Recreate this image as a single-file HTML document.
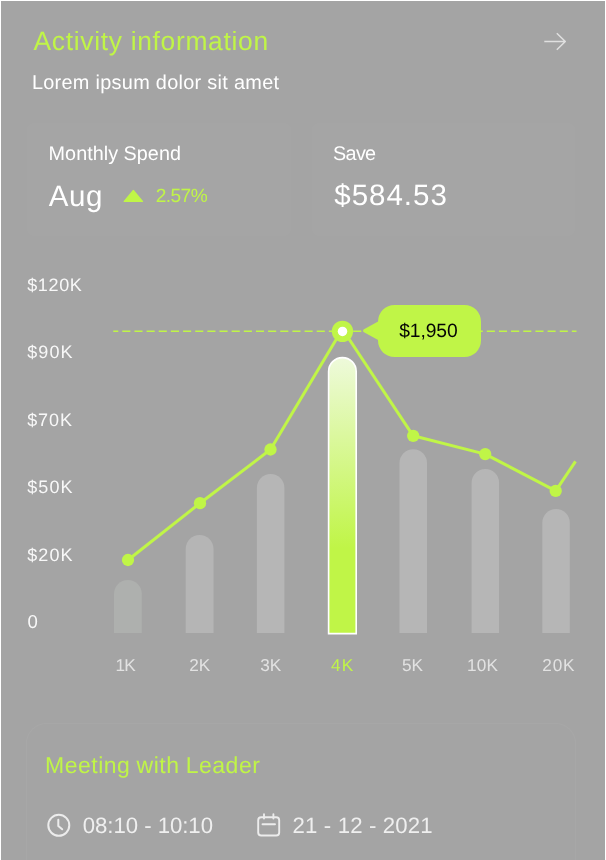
<!DOCTYPE html>
<html lang="en">
<head>
<meta charset="utf-8">
<title>Activity information</title>
<style>
  html, body { margin: 0; padding: 0; }
  body {
    width: 606px; height: 860px; overflow: hidden; position: relative;
    background: #ffffff;
    font-family: "Liberation Sans", sans-serif;
    color: #ffffff;
    text-rendering: geometricPrecision;
  }
  .panel {
    position: absolute; left: 1px; top: 1px; width: 604px; height: 859px;
    background: #a4a4a4;
  }
  .t { position: absolute; white-space: nowrap; line-height: 1; margin: 0; }
  .green { color: #c0f547; }
  .card {
    position: absolute; box-sizing: border-box;
    background: rgba(255,255,255,0.012);
    border: 1px solid rgba(255,255,255,0.008);
    border-radius: 7px;
  }
  svg { position: absolute; left: 0; top: 0; overflow: visible; }
  svg text { font-family: "Liberation Sans", sans-serif; text-rendering: geometricPrecision; }
</style>
</head>
<body>
<div class="panel"></div>

<!-- header -->
<div class="t green" id="title" style="left:33.53px; top:28.00px; font-size:26.4px; letter-spacing:0.69px;">Activity information</div>
<div class="t" id="sub" style="left:31.88px; top:74.00px; font-size:19.9px; letter-spacing:0.29px;">Lorem ipsum dolor sit amet</div>

<!-- cards -->
<div class="card" style="left:27px; top:123px; width:263.5px; height:112.6px;"></div>
<div class="card" style="left:312px; top:123px; width:263.3px; height:112.6px;"></div>

<div class="t" id="ms" style="left:48.62px; top:145.00px; font-size:19.8px; letter-spacing:0.03px;">Monthly Spend</div>
<div class="t" id="aug" style="left:48.67px; top:182.00px; font-size:29.5px; letter-spacing:0.64px;">Aug</div>
<div class="t green" id="pct" style="left:155.69px; top:187.00px; font-size:19.1px; letter-spacing:-0.54px;">2.57%</div>

<div class="t" id="save" style="left:333.05px; top:145.00px; font-size:19.8px; letter-spacing:-0.67px;">Save</div>
<div class="t" id="amt" style="left:334.37px; top:181.00px; font-size:29.5px; letter-spacing:0.97px;">$584.53</div>

<!-- bottom card -->
<div class="card" style="left:26px; top:723.3px; width:549.5px; height:170px; border-radius:20.5px; border-color:rgba(255,255,255,0.035); background:rgba(255,255,255,0.006);"></div>
<div class="t green" id="meet" style="left:45.09px; top:754.00px; font-size:23px; letter-spacing:0.49px; word-spacing:-0.6px;">Meeting with Leader</div>
<div class="t" id="time" style="left:82.73px; top:815.00px; font-size:22.2px; letter-spacing:-0.04px; color:#efefef;">08:10 - 10:10</div>
<div class="t" id="date" style="left:292.55px; top:815.00px; font-size:22.2px; letter-spacing:0.15px; color:#efefef;">21 - 12 - 2021</div>

<svg id="gfx" width="606" height="860" viewBox="0 0 606 860">
  <defs>
    <linearGradient id="barg" x1="0" y1="0" x2="0" y2="1">
      <stop offset="0" stop-color="#eefadb"/>
      <stop offset="0.69" stop-color="#c0f547"/>
      <stop offset="1" stop-color="#c0f547"/>
    </linearGradient>
  </defs>

  <!-- arrow -->
  <g fill="none" stroke="#e0e0e0" stroke-width="1.5" stroke-linecap="butt" stroke-linejoin="round">
    <path d="M544.3 41.5 H565.3 M556.8 33.3 L565.3 41.5 L556.8 49.7"/>
  </g>

  <!-- up triangle -->
  <path d="M133.35 190.5 L142.5 201.5 H124.2 Z" fill="#c0f547" stroke="#c0f547" stroke-width="1.2" stroke-linejoin="round"/>

  <!-- grey bars -->
  <g fill="#b6b6b6">
    <path d="M114 633 V593.8 a13.9 13.9 0 0 1 27.8 0 V633 Z" fill="#aeb0ae"/>
    <path d="M185.7 633 V548.8 a13.9 13.9 0 0 1 27.8 0 V633 Z" fill="#b5b5b5"/>
    <path d="M256.9 633 V487.8 a13.75 13.75 0 0 1 27.5 0 V633 Z"/>
    <path d="M399.5 633 V463 a13.75 13.75 0 0 1 27.5 0 V633 Z"/>
    <path d="M471.6 633 V482.8 a13.75 13.75 0 0 1 27.5 0 V633 Z"/>
    <path d="M542.3 633 V522.8 a13.75 13.75 0 0 1 27.5 0 V633 Z"/>
  </g>

  <!-- active bar -->
  <path d="M328.6 633.6 V371.4 a13.8 13.8 0 0 1 27.6 0 V633.6 Z" fill="url(#barg)" stroke="#ffffff" stroke-width="1.6"/>

  <!-- dashed line -->
  <path d="M113.25 331.35 H576.5" stroke="#c0f547" stroke-width="1.5" stroke-dasharray="8.1 4.05" stroke-dashoffset="3.1" fill="none"/>

  <!-- line -->
  <polyline points="128,560 200,503.2 270.5,449.5 342.4,329 413.2,435.8 485.2,454.1 555.7,490.9 575.5,461.3"
    fill="none" stroke="#c0f547" stroke-width="3" stroke-linejoin="round"/>
  <g fill="#c0f547">
    <circle cx="128" cy="560" r="6.15"/>
    <circle cx="200" cy="503.2" r="6.15"/>
    <circle cx="270.5" cy="449.5" r="6.15"/>
    <circle cx="413.2" cy="435.8" r="6.15"/>
    <circle cx="485.2" cy="454.1" r="6.15"/>
    <circle cx="555.7" cy="490.9" r="6.15"/>
    <circle cx="342.45" cy="331.35" r="10.7"/>
  </g>
  <circle cx="342.5" cy="331.45" r="4.75" fill="#ffffff"/>

  <!-- tooltip -->
  <rect x="378" y="305" width="103" height="52" rx="16.5" fill="#c0f547"/>
  <path d="M379 321 L364 329.3 a1.7 1.7 0 0 0 0 3 L379 340.6 Z" fill="#c0f547"/>
  <text x="399.2" y="336.6" font-size="19.3" fill="#050505" letter-spacing="-0.1">$1,950</text>

  <!-- y labels -->
  <g font-size="18" fill="#f8f8f8">
    <text x="27.2" y="290.7" letter-spacing="0.65">$120K</text>
    <text x="27.2" y="358" letter-spacing="1.1">$90K</text>
    <text x="27.2" y="425.6" letter-spacing="0.9">$70K</text>
    <text x="27.2" y="492.8" letter-spacing="1.1">$50K</text>
    <text x="27.2" y="560.7" letter-spacing="1.1">$20K</text>
    <text x="27.4" y="628" font-size="18.6">0</text>
  </g>

  <!-- x labels -->
  <g font-size="17.2" fill="#e2e2e2">
    <text x="115.6" y="670.6" letter-spacing="-0.9">1K</text>
    <text x="189.2" y="670.6" letter-spacing="0">2K</text>
    <text x="260.2" y="670.6" letter-spacing="0">3K</text>
    <text x="330.9" y="670.6" fill="#c0f547" letter-spacing="1.4">4K</text>
    <text x="401.9" y="670.6" letter-spacing="0">5K</text>
    <text x="466.9" y="670.6" letter-spacing="0.2">10K</text>
    <text x="542.2" y="670.6" letter-spacing="0.9">20K</text>
  </g>

  <!-- clock icon -->
  <g fill="none" stroke="#ececec" stroke-width="2" stroke-linecap="round" stroke-linejoin="round">
    <circle cx="58.8" cy="825.3" r="10.5"/>
    <path d="M58.3 819.8 V826 L62.2 829.3"/>
  </g>
  <!-- calendar icon -->
  <g fill="none" stroke="#ececec" stroke-width="1.9" stroke-linecap="round" stroke-linejoin="round">
    <rect x="258.2" y="817.3" width="21" height="18.2" rx="3"/>
    <path d="M264 814.2 V818.5 M273.4 814.2 V818.5 M262.5 824.3 H275"/>
  </g>
</svg>
</body>
</html>
